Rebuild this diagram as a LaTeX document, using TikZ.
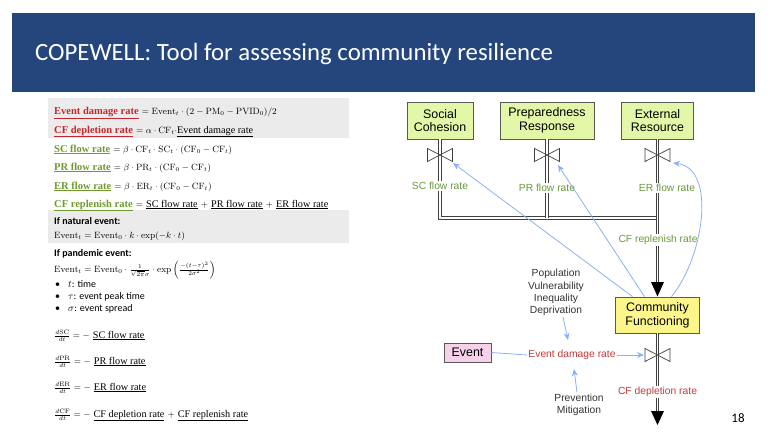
\documentclass[tikz,border=0pt]{standalone}
\usepackage{fontspec}
\usetikzlibrary{arrows.meta}
\newfontfamily\carl{Carlito}
\newfontfamily\lsans{Liberation Sans}
\newfontfamily\lser{Liberation Serif}
\newcommand\eqlbl[1]{\underline{{\lser\bfseries\fontsize{10.5}{12}\selectfont #1}}}
\newcommand\eqref[1]{\underline{{\lser\fontsize{10.2}{12}\selectfont #1}}}
\definecolor{hdrblue}{HTML}{25467D}
\definecolor{eqred}{HTML}{C0282D}
\definecolor{eqgreen}{HTML}{6E9A2E}
\definecolor{dgreen}{HTML}{6A9A3C}
\definecolor{dred}{HTML}{BF3B3B}
\definecolor{linkblue}{HTML}{8AB0F5}
\definecolor{stockgreen}{HTML}{E2F7A8}
\definecolor{cfyellow}{HTML}{FBF58A}
\definecolor{evpink}{HTML}{F6D2EA}
\definecolor{panelgray}{HTML}{EBEBEB}
\definecolor{txtgray}{HTML}{333333}
\tikzset{
  eqline/.style={anchor=base west, inner sep=0pt, font=\fontsize{9.1}{11}\selectfont},
  hdline/.style={anchor=base west, inner sep=0pt, font=\carl\bfseries\fontsize{10}{12}\selectfont},
  bulline/.style={anchor=base west, inner sep=0pt, font=\carl\fontsize{10}{12}\selectfont},
  stock/.style={draw=black!65, line width=0.8pt, font=\lsans\fontsize{12.4}{13.6}\selectfont, align=center, inner sep=0pt, minimum height=37pt},
  ratelbl/.style={font=\lsans\fontsize{10.3}{12.3}\selectfont, inner sep=1pt, align=center},
  pipe/.style={draw=black!75, line width=0.7pt, double=white, double distance=1.8pt},
  valvestyle/.style={draw=black!75, line width=0.7pt},
  link/.style={draw=linkblue, line width=0.8pt, -{Stealth[length=7pt,width=6pt]}},
  plainlink/.style={draw=linkblue, line width=0.8pt},
  headtri/.style={fill=black},
}
\begin{document}
\begin{tikzpicture}[x=1pt,y=-1pt]
\useasboundingbox (0,0) rectangle (768,444);
% header
\fill[hdrblue] (12,13) rectangle (755,92);
\node[anchor=base west, text=white, inner sep=0pt, font=\carl\fontsize{24.8}{28}\selectfont] (title) at (35,60) {COPEWELL: Tool for assessing community resilience};
% panels
\fill[panelgray] (48,98) rectangle (349,138);
\fill[panelgray] (48,210) rectangle (349,243);
% equations
\node[eqline] (e1) at (54,114) {{\color{eqred}\eqlbl{Event damage rate}} $=\mathrm{Event}_t\cdot(2-\mathrm{PM}_0-\mathrm{PVID}_0)/2$};
\node[eqline] (e2) at (54,133) {{\color{eqred}\eqlbl{CF depletion rate}} $=\alpha\cdot\mathrm{CF}_t\cdot$\eqref{Event damage rate}};
\node[eqline] (e3) at (54,152) {{\color{eqgreen}\eqlbl{SC flow rate}} $=\beta\cdot\mathrm{CF}_t\cdot\mathrm{SC}_t\cdot(\mathrm{CF}_0-\mathrm{CF}_t)$};
\node[eqline] (e4) at (54,170) {{\color{eqgreen}\eqlbl{PR flow rate}} $=\beta\cdot\mathrm{PR}_t\cdot(\mathrm{CF}_0-\mathrm{CF}_t)$};
\node[eqline] (e5) at (54,189) {{\color{eqgreen}\eqlbl{ER flow rate}} $=\beta\cdot\mathrm{ER}_t\cdot(\mathrm{CF}_0-\mathrm{CF}_t)$};
\node[eqline] (e6) at (54,207) {{\color{eqgreen}\eqlbl{CF replenish rate}} $=$ \eqref{SC flow rate} $+$ \eqref{PR flow rate} $+$ \eqref{ER flow rate}};
\node[hdline] (h1) at (54,224) {If natural event:};
\node[eqline] (e7) at (54,238) {$\mathrm{Event}_t=\mathrm{Event}_0\cdot k\cdot\exp(-k\cdot t)$};
\node[hdline] (h2) at (54,256) {If pandemic event:};
\node[eqline] (e8) at (54,272) {$\mathrm{Event}_t=\mathrm{Event}_0\cdot\frac{1}{\sqrt{2\pi}\sigma}\cdot\exp\left(\frac{-(t-\tau)^2}{2\sigma^2}\right)$};
\node[bulline] (b1) at (55,287) {\textbullet};
\node[bulline] (b1t) at (68,287) {$t$: time};
\node[bulline] (b2) at (55,299) {\textbullet};
\node[bulline] (b2t) at (68,299) {$\tau$: event peak time};
\node[bulline] (b3) at (55,311) {\textbullet};
\node[bulline] (b3t) at (68,311) {$\sigma$: event spread};
\node[eqline] (d1) at (54,338) {$\frac{d\mathrm{SC}}{dt}=-$ \eqref{SC flow rate}};
\node[eqline] (d2) at (54,364) {$\frac{d\mathrm{PR}}{dt}=-$ \eqref{PR flow rate}};
\node[eqline] (d3) at (54,390) {$\frac{d\mathrm{ER}}{dt}=-$ \eqref{ER flow rate}};
\node[eqline] (d4) at (54,417) {$\frac{d\mathrm{CF}}{dt}=-$ \eqref{CF depletion rate} $+$ \eqref{CF replenish rate}};
% stocks
\node[stock, fill=stockgreen, minimum width=66pt] (sc) at (440,120.5) {Social\\Cohesion};
\node[stock, fill=stockgreen, minimum width=94pt] (pr) at (547,120.5) {Preparedness\\Response};
\node[stock, fill=stockgreen, minimum width=72pt] (er) at (657.5,120.5) {External\\Resource};
\node[stock, fill=cfyellow, minimum width=84pt, minimum height=36pt] (cf) at (657.5,315) {Community\\Functioning};
\node[stock, fill=evpink, minimum width=47pt, minimum height=19pt] (ev) at (467.5,352.5) {Event};
% pipe coordinates
\coordinate (scj) at (440,218);
\coordinate (prj) at (547,218);
\coordinate (erj) at (657.5,218);
\coordinate (ertop) at (657.5,283);
\coordinate (cfbot) at (657.5,412);
% pipes
\draw[pipe] (sc.south) |- (erj);
\draw[pipe] (pr.south) -- (prj);
\draw[pipe] (er.south) -- (ertop);
\draw[pipe] (cf.south) -- (cfbot);
\fill[headtri] (651,282) -- (664,282) -- (657.5,296.5) -- cycle;
\fill[headtri] (651,411) -- (664,411) -- (657.5,425) -- cycle;
% valves
\coordinate (vsc) at (440,155);
\coordinate (vpr) at (547,155);
\coordinate (ver) at (657.5,155);
\coordinate (vcf) at (657.5,355);
\foreach \v in {vsc,vpr,ver,vcf}{
  \draw[valvestyle] (\v) ++(-12.5,-6.5) -- ++(25,13) -- ++(0,-13) -- ++(-25,13) -- cycle;
}
% rate labels
\node[ratelbl, fill=white, text=dgreen] (scr) at (440,186) {SC flow rate};
\node[ratelbl, fill=white, text=dgreen] (prr) at (547,188) {PR flow rate};
\node[ratelbl, fill=white, text=dgreen] (err) at (667,188) {ER flow rate};
\node[ratelbl, fill=white, text=dgreen] (cfr) at (658,240) {CF replenish rate};
\node[ratelbl, fill=white, text=dred] (cfd) at (657.5,392) {CF depletion rate};
\node[ratelbl, text=dred] (edr) at (572,355) {Event damage rate};
\node[ratelbl, text=txtgray] (pop) at (556,292.5) {Population\\Vulnerability\\Inequality\\Deprivation};
\node[ratelbl, text=txtgray] (prev) at (579,404.5) {Prevention\\Mitigation};
% link targets
\coordinate (tsc) at (453,163);
\coordinate (tpr) at (558,165);
\coordinate (ter) at (673,163);
\coordinate (tcf) at (644,355);
\coordinate (tedrA) at (568,340);
\coordinate (tedrB) at (574,369);
% links
\draw[link] ([xshift=-25pt]cf.north) -- (tsc);
\draw[link] ([xshift=-13pt]cf.north) -- (tpr);
\draw[link] ([xshift=14pt]cf.north) .. controls (705,255) and (716,168) .. (ter);
\draw[plainlink] (ev.east) -- (edr.west);
\draw[link] (edr.east) -- (tcf);
\draw[link] ([xshift=7pt]pop.south) -- (tedrA);
\draw[link] ([xshift=-2pt]prev.north) -- (tedrB);
% page number
\node[font=\carl\fontsize{13}{15}\selectfont, inner sep=0pt] (pg) at (738,418) {18};
\end{tikzpicture}
\end{document}
